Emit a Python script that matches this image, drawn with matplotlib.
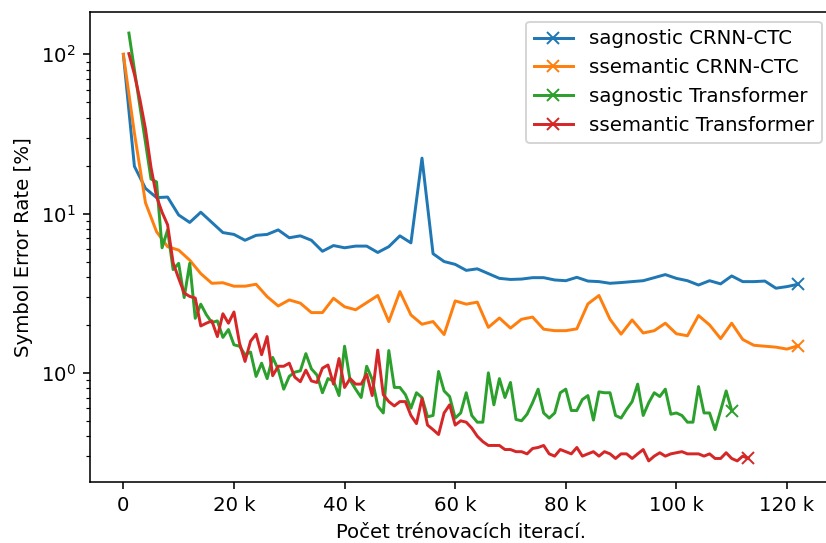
import numpy as np
import matplotlib
matplotlib.use("Agg")
import matplotlib.pyplot as plt
from matplotlib.ticker import EngFormatter

# iterations (blue/orange logged every 2k, transformers every 1k)
iters_crnn = np.arange(0, 123, 2) * 1000
iters_agn_tr = np.arange(1, 111) * 1000
iters_sem_tr = np.arange(1, 114) * 1000

# symbol error rate [%]
agnostic_crnn = [
    100, 19.8, 14.4, 12.6, 12.7, 9.8, 8.8, 10.2, 8.8, 7.6,
    7.4, 6.8, 7.3, 7.4, 7.9, 7.05, 7.25, 6.8, 5.8, 6.3,
    6.1, 6.25, 6.25, 5.7, 6.2, 7.25, 6.55, 22.3, 5.6, 5.0,
    4.8, 4.4, 4.5, 4.2, 3.92, 3.86, 3.88, 3.96, 3.96, 3.83,
    3.79, 3.98, 3.77, 3.74, 3.65, 3.69, 3.74, 3.79, 3.96, 4.14,
    3.92, 3.79, 3.56, 3.79, 3.62, 4.06, 3.74, 3.74, 3.77, 3.4,
    3.48, 3.6,
]
semantic_crnn = [
    100, 32, 11.7, 7.7, 6.2, 5.9, 5.1, 4.2, 3.65, 3.68,
    3.5, 3.5, 3.6, 3.01, 2.63, 2.87, 2.74, 2.39, 2.39, 2.94,
    2.6, 2.49, 2.76, 3.06, 2.1, 3.24, 2.31, 2.02, 2.1, 1.74,
    2.83, 2.7, 2.78, 1.93, 2.21, 1.91, 2.17, 2.24, 1.88, 1.84,
    1.84, 1.89, 2.71, 3.06, 2.17, 1.75, 2.15, 1.78, 1.84, 2.05,
    1.76, 1.71, 2.29, 2.0, 1.64, 2.05, 1.62, 1.49, 1.47, 1.45,
    1.41, 1.48,
]
agnostic_tr = [
    136, 80, 47, 28, 16.5, 15.8, 6.1, 7.9, 4.45, 4.87,
    2.97, 4.87, 2.2, 2.7, 2.32, 2.07, 2.12, 1.67, 1.87, 1.5,
    1.47, 1.3, 1.35, 0.95, 1.15, 0.92, 1.25, 1.05, 0.79, 0.95,
    1.01, 1.03, 1.32, 1.06, 0.97, 0.75, 0.92, 0.89, 0.72, 1.47,
    0.9, 0.79, 0.70, 1.1, 0.91, 0.62, 0.56, 1.38, 0.81, 0.81,
    0.73, 0.60, 0.75, 0.70, 0.53, 0.54, 1.02, 0.77, 0.71, 0.52,
    0.56, 0.75, 0.54, 0.49, 0.49, 1.0, 0.63, 0.92, 0.70, 0.87,
    0.51, 0.50, 0.55, 0.65, 0.79, 0.56, 0.52, 0.56, 0.75, 0.79,
    0.58, 0.58, 0.68, 0.72, 0.505, 0.76, 0.75, 0.75, 0.54, 0.52,
    0.59, 0.66, 0.85, 0.54, 0.65, 0.75, 0.71, 0.79, 0.55, 0.56,
    0.54, 0.49, 0.49, 0.82, 0.56, 0.56, 0.44, 0.58, 0.77, 0.58,
]
semantic_tr = [
    101, 75, 52, 34, 19.5, 12.8, 10.2, 8.5, 4.9, 3.92,
    3.17, 3.02, 2.95, 1.97, 2.05, 2.12, 1.69, 2.35, 2.05, 2.41,
    1.54, 1.18, 1.58, 1.75, 1.3, 1.69, 0.96, 1.1, 1.1, 1.15,
    0.94, 0.88, 1.04, 0.89, 0.87, 1.07, 1.12, 0.85, 1.23, 0.81,
    0.92, 0.85, 0.85, 0.98, 0.72, 1.39, 0.73, 0.66, 0.62, 0.66,
    0.66, 0.54, 0.48, 0.69, 0.47, 0.44, 0.41, 0.56, 0.63, 0.47,
    0.50, 0.49, 0.45, 0.40, 0.37, 0.35, 0.35, 0.35, 0.33, 0.33,
    0.32, 0.32, 0.31, 0.335, 0.34, 0.35, 0.31, 0.30, 0.33, 0.32,
    0.31, 0.34, 0.30, 0.31, 0.32, 0.30, 0.32, 0.31, 0.29, 0.31,
    0.31, 0.29, 0.31, 0.33, 0.28, 0.30, 0.315, 0.30, 0.31, 0.315,
    0.32, 0.31, 0.31, 0.31, 0.30, 0.31, 0.29, 0.29, 0.315, 0.29,
    0.28, 0.30, 0.29,
]

series = [
    (iters_crnn, agnostic_crnn, "sagnostic CRNN-CTC"),
    (iters_crnn, semantic_crnn, "ssemantic CRNN-CTC"),
    (iters_agn_tr, agnostic_tr, "sagnostic Transformer"),
    (iters_sem_tr, semantic_tr, "ssemantic Transformer"),
]

fig = plt.figure(figsize=(826 / 142, 543 / 142), dpi=142)
ax = fig.add_axes([0.1085, 0.1118, 0.8985, 0.8667])

for x, y, label in series:
    ax.plot(x, y, marker="x", markevery=[-1], label=label)

ax.set_yscale("log")
ax.xaxis.set_major_formatter(EngFormatter())
ax.set_xlabel("Počet trénovacích iterací.")
ax.set_ylabel("Symbol Error Rate [%]")
ax.legend(loc="upper right")

fig.savefig("out.png", dpi=142)
